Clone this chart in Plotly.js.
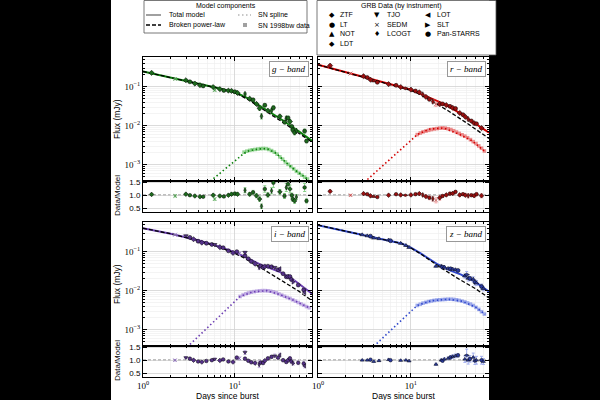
<!DOCTYPE html>
<html><head><meta charset="utf-8">
<script src="https://cdn.plot.ly/plotly-3.0.1.min.js"></script>
<style>html,body{margin:0;padding:0;background:#000;}#chart{width:600px;height:400px;}</style>
</head><body><div id="chart"></div>
<script>
// ---------------- g band ----------------
const gDays  = [1.24,2.24,2.93,3.24,3.67,4.17,4.52,5.81,6.03,6.87,7.59,8.51,9.2,10.0,10.7,12.9,14.5,15.8,17.2,18.6,19.5,21.2,22.9,25.1,26.3,30.9,34.7,36.3,38.0,39.8,41.7,42.7,44.7,46.8,57.5,60.3];
const gFlux  = [0.226,0.157,0.146,0.133,0.120,0.109,0.1045,0.0975,0.0813,0.0863,0.080,0.0789,0.0778,0.0741,0.0689,0.0649,0.0492,0.0459,0.036,0.0278,0.0174,0.0334,0.0242,0.0244,0.0288,0.0173,0.0124,0.0154,0.0157,0.0127,0.0095,0.0078,0.00664,0.00735,0.00726,0.00403];
const gRatio = [1.03,0.97,1.04,1.0,0.97,0.94,0.94,1.0,0.85,0.97,0.95,1.0,1.04,1.06,1.04,1.19,1.04,1.11,0.98,0.85,0.57,1.24,1.01,1.17,1.48,1.13,0.97,1.3,1.43,1.24,1.0,0.85,0.78,0.93,1.3,0.78];
const gErr   = [0.03,0.04,0.03,0.03,0.03,0.03,0.03,0.04,0.05,0.04,0.04,0.04,0.05,0.05,0.05,0.08,0.06,0.07,0.08,0.1,0.15,0.1,0.08,0.1,0.12,0.08,0.1,0.12,0.12,0.12,0.08,0.1,0.12,0.1,0.12,0.1];
const gInst  = ['ZTF','SEDM','ZTF','LT','ZTF','ZTF','LT','ZTF','SEDM','ZTF','LT','ZTF','ZTF','LT','ZTF','LCOGT','ZTF','LT','ZTF','ZTF','LCOGT','LT','ZTF','LCOGT','LT','ZTF','LT','LCOGT','LT','ZTF','LT','LT','ZTF','LCOGT','LT','LT'];
const gTotDays = [1,2.0,3.98,6.31,8.91,11.2,14.1,20.0,31.6,50.1,69.2];
const gTotal   = [0.245,0.172,0.119,0.0933,0.0767,0.0638,0.049,0.0295,0.0148,0.00708,0.00407];
const gBplDays = [1,2.0,3.98,6.31,8.91,11.2,14.1,20.0,31.6,50.1,69.2];
const gBpl     = [0.245,0.172,0.119,0.0933,0.0759,0.0617,0.0457,0.0269,0.0132,0.00631,0.0038];
const gSplDays = [5.01,6.31,7.94,10.0,12.6,14.1,17.8,22.4,28.2,35.5,44.7,56.2,63.1];
const gSpl     = [0.000324,0.000513,0.000794,0.00126,0.00195,0.00224,0.00251,0.00257,0.00195,0.00117,0.000741,0.000501,0.000407];
const gSNDays  = [12.6,13.5,14.5,15.5,16.6,17.8,19.1,20.4,21.9,23.4,25.1,26.9,28.8,30.9,33.1,35.5,38.0,40.7,43.7,46.8,50.1,53.7,57.5,61.7];
const gSN      = [0.00209,0.00221,0.00232,0.0024,0.00245,0.00251,0.00257,0.0026,0.00257,0.00245,0.00229,0.00209,0.00186,0.00158,0.00138,0.00117,0.00102,0.00089,0.000776,0.000676,0.000603,0.000537,0.000479,0.000427];

// ---------------- r band ----------------
const rDays  = [1.35,2.24,3.09,3.39,3.67,3.98,4.35,5.75,6.92,7.76,8.71,10.0,11.2,12.3,13.4,14.5,15.8,17.2,18.6,20.4,21.9,24.0,26.3,28.2,30.2,33.5,36.3,38.5,41.3,44.7,47.9,50.8,57.5];
const rFlux  = [0.346,0.217,0.185,0.171,0.151,0.140,0.129,0.116,0.108,0.0977,0.0904,0.0839,0.0771,0.0716,0.0628,0.0547,0.0472,0.0414,0.0354,0.036,0.0361,0.0337,0.0312,0.0286,0.0275,0.0211,0.0191,0.0168,0.0146,0.0132,0.01156,0.01117,0.00865];
const rRatio = [1.15,1.0,1.06,1.04,0.975,0.95,0.93,1.0,1.04,1.01,1.0,1.01,1.04,1.06,1.01,0.95,0.9,0.86,0.8,0.9,0.97,1.01,1.06,1.07,1.13,1.01,1.04,1.0,0.98,1.0,0.98,1.04,0.98];
const rErr   = [0.04,0.03,0.03,0.03,0.03,0.03,0.03,0.03,0.03,0.03,0.03,0.03,0.04,0.04,0.05,0.06,0.08,0.1,0.12,0.1,0.06,0.05,0.05,0.04,0.04,0.05,0.05,0.05,0.08,0.05,0.06,0.06,0.08];
const rInst  = ['ZTF','SEDM','ZTF','LT','ZTF','NOT','LT','ZTF','LT','ZTF','LDT','ZTF','LT','ZTF','LCOGT','ZTF','LT','LCOGT','SEDM','ZTF','LT','ZTF','LT','ZTF','LT','ZTF','LT','ZTF','LCOGT','LT','ZTF','LT','ZTF'];
const rTotDays = [1,2.0,4.37,6.31,10,15.8,22.9,31.6,50.1,69.2];
const rTotal   = [0.363,0.234,0.138,0.11,0.0832,0.0525,0.0355,0.0229,0.011,0.00661];
const rBplDays = [1,2.0,4.37,6.31,8.91,11.2,15.8,25.1,39.8,69.2];
const rBpl     = [0.363,0.234,0.138,0.108,0.0871,0.0724,0.0468,0.024,0.0117,0.00468];
const rSplDays = [3.16,3.98,5.01,6.31,7.94,10.0,11.7,15.8,22.4,31.6,44.7,63.1];
const rSpl     = [0.000355,0.000575,0.000955,0.00155,0.00257,0.00417,0.00589,0.00813,0.0087,0.00631,0.00417,0.00214];
const rSNDays  = [11.7,12.6,13.5,14.5,15.5,16.6,17.8,19.1,20.4,21.9,23.4,25.1,26.9,28.8,30.9,33.1,35.5,38.0,40.7,43.7,46.8,50.1,53.7,57.5,61.7];
const rSN      = [0.00589,0.00646,0.00692,0.00724,0.00759,0.00794,0.00822,0.00841,0.00861,0.00871,0.00861,0.00832,0.00794,0.00741,0.00684,0.00631,0.00582,0.00537,0.0049,0.00437,0.00389,0.00347,0.00302,0.00263,0.00224];

// ---------------- i band ----------------
const iDays  = [2.23,2.93,3.24,3.55,3.98,4.37,4.9,5.62,6.03,6.87,7.46,8.51,9.55,10.5,11.2,12.9,12.9,14.0,15.1,16.6,18.4,19.1,20.3,21.2,22.9,25.1,27.2,29.5,30.9,33.5,36.3,38.0,39.8,41.3,43.1,49.0,56.2,57.5];
const iFlux  = [0.271,0.255,0.232,0.208,0.185,0.170,0.164,0.153,0.152,0.130,0.126,0.105,0.0929,0.100,0.091,0.0782,0.0959,0.0658,0.0562,0.0488,0.0407,0.0427,0.0394,0.0416,0.0423,0.041,0.0394,0.0345,0.0361,0.0272,0.0226,0.0228,0.0229,0.0193,0.0168,0.0139,0.0105,0.00902];
const iRatio = [1.0,1.1,1.06,1.0,0.95,0.93,0.97,1.0,1.04,0.99,1.03,0.95,0.93,1.1,1.07,1.06,1.3,0.98,0.92,0.89,0.84,0.91,0.89,0.98,1.07,1.13,1.17,1.1,1.2,1.0,0.93,1.0,1.07,0.95,0.88,0.9,0.87,0.78];
const iErr   = [0.03,0.04,0.03,0.03,0.03,0.03,0.03,0.03,0.04,0.03,0.04,0.04,0.04,0.05,0.05,0.05,0.06,0.05,0.06,0.06,0.15,0.06,0.06,0.05,0.05,0.05,0.06,0.05,0.06,0.06,0.06,0.05,0.06,0.08,0.08,0.08,0.1,0.1];
const iInst  = ['SEDM','TJO','LT','ZTF','LT','ZTF','LT','LT','TJO','ZTF','LT','LT','ZTF','LT','SEDM','LT','TJO','LT','LT','ZTF','LCOGT','LT','LT','ZTF','LT','LT','TJO','LT','LOT','LT','LT','ZTF','LT','LT','SLT','LT','LT','LOT'];
const iTotDays = [1,2.0,3.98,6.31,9.55,12.6,18.6,25.1,31.6,44.7,69.2];
const iTotal   = [0.398,0.288,0.195,0.141,0.1,0.0759,0.0479,0.0363,0.0295,0.0182,0.00832];
const iBplDays = [1,2.0,3.98,6.31,9.55,12.6,20.0,31.6,50.1,69.2];
const iBpl     = [0.398,0.288,0.191,0.138,0.0955,0.0692,0.0363,0.0186,0.00955,0.0055];
const iSplDays = [3.02,3.98,5.01,6.31,7.94,10.0,11.4,15.8,22.4,31.6,44.7,63.1];
const iSpl     = [0.000355,0.000661,0.00112,0.00186,0.00316,0.00537,0.00708,0.00933,0.01,0.00776,0.0055,0.00372];
const iSNDays  = [11.4,12.3,13.2,14.1,15.1,16.2,17.4,18.6,20.0,21.4,22.9,24.5,26.3,28.2,30.2,32.4,34.7,37.2,39.8,42.7,45.7,49.0,52.5,56.2,60.3,64.6];
const iSN      = [0.00708,0.00776,0.00832,0.00871,0.00912,0.00944,0.00966,0.00989,0.01,0.01,0.00989,0.00966,0.00933,0.00881,0.00822,0.00767,0.00716,0.00668,0.00631,0.00582,0.00537,0.00495,0.00457,0.00422,0.00389,0.00363];

// ---------------- z band ----------------
const zDays  = [2.99,3.39,3.67,3.98,4.53,5.75,6.03,7.76,8.83,9.55,18.6,21.2,21.9,22.9,25.1,26.7,28.2,30.1,32.1,38.0,39.8,41.3,43.1,46.8,48.8,50.8,57.5,60.3];
const zFlux  = [0.2705,0.254,0.249,0.223,0.215,0.199,0.1905,0.163,0.144,0.1285,0.0422,0.0425,0.040,0.0402,0.0371,0.0363,0.0356,0.0344,0.0329,0.0238,0.0258,0.0207,0.0206,0.0196,0.0164,0.0158,0.0128,0.01125];
const zRatio = [1.0,1.0,1.02,0.95,0.98,1.02,1.0,0.99,1.0,0.97,0.84,1.0,0.98,1.04,1.07,1.11,1.14,1.17,1.19,1.04,1.19,1.0,1.05,1.11,0.98,1.0,1.0,0.95];
const zErr   = [0.03,0.03,0.03,0.03,0.03,0.03,0.03,0.03,0.03,0.03,0.05,0.05,0.05,0.05,0.05,0.06,0.06,0.06,0.06,0.12,0.2,0.15,0.12,0.15,0.15,0.15,0.15,0.12];
const zInst  = ['NOT','NOT','LT','NOT','NOT','NOT','LT','NOT','NOT','NOT','NOT','NOT','LT','NOT','NOT','LT','NOT','NOT','LT','NOT','LDT','NOT','LT','NOT','Pan-STARRS','NOT','LT','NOT'];
const zTotDays = [1,2.51,5.01,6.61,7.94,10,12.6,19.5,25.1,34.7,50.1,69.2];
const zTotal   = [0.479,0.295,0.209,0.182,0.162,0.126,0.0912,0.0468,0.0347,0.0257,0.0162,0.00933];
const zBplDays = [1,2.51,5.01,6.61,7.94,10,12.6,19.5,31.6,50.1,69.2];
const zBpl     = [0.479,0.295,0.209,0.182,0.162,0.124,0.0891,0.0437,0.0209,0.011,0.00646];
const zSplDays = [3.98,5.01,6.31,7.94,10.0,11.7,16.6,25.1,35.5,50.1,63.1];
const zSpl     = [0.000372,0.000617,0.00102,0.0017,0.00288,0.00417,0.0055,0.00603,0.00537,0.00372,0.00245];
const zSNDays  = [11.7,12.6,13.5,14.5,15.5,16.6,17.8,19.1,20.4,21.9,23.4,25.1,26.9,28.8,30.9,33.1,35.5,38.0,40.7,43.7,46.8,50.1,53.7,57.5,61.7];
const zSN      = [0.00417,0.00447,0.00479,0.00501,0.00525,0.00543,0.00562,0.00575,0.00582,0.00589,0.00596,0.00603,0.00603,0.00596,0.00582,0.00562,0.00537,0.00513,0.00484,0.00452,0.00417,0.00372,0.00331,0.00288,0.00251];

// legend labels
const instruments = ['ZTF','LT','NOT','LDT','TJO','SEDM','LCOGT','LOT','SLT','Pan-STARRS'];
const instGlyph   = ['◆','●','▲','◆','▼','×','♦','◀','▶','●'];
const bandNames   = ['g','r','i','z'];

// ---------------- styling ----------------
const SYM = {ZTF:'diamond', LT:'circle', NOT:'triangle-up', LDT:'diamond-wide', TJO:'triangle-down', SEDM:'x-thin-open', LCOGT:'diamond-tall', LOT:'triangle-left', SLT:'triangle-right', 'Pan-STARRS':'hexagon'};
const SANS = 'Liberation Sans, Arial, sans-serif';
const SERIF = 'Liberation Serif, DejaVu Serif, serif';
const DASH = '4px,2px', DOT = '1.5px,2.5px';

const bands = [
  {d:gDays,f:gFlux,q:gRatio,e:gErr,s:gInst,td:gTotDays,t:gTotal,bd:gBplDays,b:gBpl,pd:gSplDays,p:gSpl,nd:gSNDays,n:gSN,
   col:'#0b800b', dark:'#1d6a1d', err:'#86d086', sq:'#6cc46c', ax:['','3']},
  {d:rDays,f:rFlux,q:rRatio,e:rErr,s:rInst,td:rTotDays,t:rTotal,bd:rBplDays,b:rBpl,pd:rSplDays,p:rSpl,nd:rSNDays,n:rSN,
   col:'#d40000', dark:'#9a1010', err:'#f4a4a4', sq:'#e46060', ax:['2','4']},
  {d:iDays,f:iFlux,q:iRatio,e:iErr,s:iInst,td:iTotDays,t:iTotal,bd:iBplDays,b:iBpl,pd:iSplDays,p:iSpl,nd:iSNDays,n:iSN,
   col:'#6d3fb3', dark:'#55318a', err:'#c4b0e4', sq:'#ad92dc', ax:['5','7']},
  {d:zDays,f:zFlux,q:zRatio,e:zErr,s:zInst,td:zTotDays,t:zTotal,bd:zBplDays,b:zBpl,pd:zSplDays,p:zSpl,nd:zSNDays,n:zSN,
   col:'#3048cc', dark:'#2a3aa0', err:'#a4b0ee', sq:'#7a8ce4', ax:['6','8']}
];

const traces = [];
bands.forEach(B => {
  const xa = 'x' + B.ax[0], ya = 'y' + B.ax[0];
  const xr = 'x' + B.ax[1], yr = 'y' + B.ax[1];
  traces.push({x:B.nd, y:B.n, xaxis:xa, yaxis:ya, mode:'markers', type:'scatter',
    marker:{symbol:'square', size:3.6, color:B.sq, opacity:0.7}, hoverinfo:'skip'});
  traces.push({x:B.pd, y:B.p, xaxis:xa, yaxis:ya, mode:'lines', type:'scatter',
    line:{color:B.col, width:1.6, dash:DOT}, hoverinfo:'skip'});
  traces.push({x:B.td, y:B.t, xaxis:xa, yaxis:ya, mode:'lines', type:'scatter',
    line:{color:B.col, width:2}, hoverinfo:'skip'});
  traces.push({x:B.bd, y:B.b, xaxis:xa, yaxis:ya, mode:'lines', type:'scatter',
    line:{color:'#000', width:1.3, dash:DASH}, hoverinfo:'skip'});
  const syms = B.s.map(k => SYM[k]);
  const lineCols = B.s.map(k => k === 'SEDM' ? B.dark : '#000');
  traces.push({x:B.d, y:B.f, xaxis:xa, yaxis:ya, mode:'markers', type:'scatter',
    error_y:{type:'data', array:B.f.map((v,k)=>v*B.e[k]), color:B.err, thickness:1, width:1.5},
    marker:{symbol:syms, size:4, color:B.dark, line:{color:lineCols, width:0.5}}});
  traces.push({x:B.d, y:B.q, xaxis:xr, yaxis:yr, mode:'markers', type:'scatter',
    error_y:{type:'data', array:B.q.map((v,k)=>v*B.e[k]), color:B.err, thickness:1, width:1.5},
    marker:{symbol:syms, size:3.6, color:B.dark, line:{color:lineCols, width:0.5}}});
});

// ---------------- axes ----------------
const XL = [143/600, 312/600], XR = [318/600, 489/600];
const YTM = [1-181/400, 1-57/400], YTR = [1-212/400, 1-181/400];
const YBM = [1-346/400, 1-222/400], YBR = [1-377/400, 1-346/400];

const xMinor = []; [1,10].forEach(dec => { for (let m=2;m<=9;m++) xMinor.push(m*dec); });
const yMinor = []; [0.0001,0.001,0.01,0.1].forEach(dec => { for (let m=2;m<=9;m++) yMinor.push(m*dec); });

function common() {
  return {showline:true, linecolor:'#000', linewidth:1, mirror:'ticks', ticks:'inside', ticklen:4, tickcolor:'#000',
    showgrid:true, gridcolor:'#d2d2d2', gridwidth:0.8, zeroline:false, fixedrange:true};
}
function xAxis(dom, anchor, labels) {
  return Object.assign(common(), {type:'log', domain:dom, anchor:anchor, range:[0,1.84],
    tickmode:'array', tickvals:[1,10], ticktext:['10<sup>0</sup>','10<sup>1</sup>'], showticklabels:labels,
    tickfont:{family:SERIF, size:9, color:'#000'},
    minor:{tickmode:'array', tickvals:xMinor, ticks:'inside', ticklen:2, tickcolor:'#000', showgrid:true, gridcolor:'#ececec', gridwidth:0.6}});
}
function yMain(dom, anchor, labels) {
  return Object.assign(common(), {type:'log', domain:dom, anchor:anchor, range:[-3.42,-0.24],
    tickmode:'array', tickvals:[0.001,0.01,0.1], ticktext:['10<sup>−3</sup>','10<sup>−2</sup>','10<sup>−1</sup>'], showticklabels:labels,
    tickfont:{family:SERIF, size:9, color:'#000'},
    minor:{tickmode:'array', tickvals:yMinor, ticks:'inside', ticklen:2, tickcolor:'#000', showgrid:true, gridcolor:'#ececec', gridwidth:0.6}});
}
function yRatio(dom, anchor, labels) {
  return Object.assign(common(), {type:'linear', domain:dom, anchor:anchor, range:[0.35,1.55],
    tickmode:'array', tickvals:[0.5,1.0,1.5], ticktext:['0.5','1.0','1.5'], showticklabels:labels,
    tickfont:{family:SANS, size:8, color:'#000'}});
}

const layout = {
  width:600, height:400, margin:{l:0,r:0,t:0,b:0}, paper_bgcolor:'#000', plot_bgcolor:'#fff', showlegend:false,
  xaxis: xAxis(XL,'y',false),  yaxis: yMain(YTM,'x',true),
  xaxis2:xAxis(XR,'y2',false), yaxis2:yMain(YTM,'x2',false),
  xaxis3:xAxis(XL,'y3',false), yaxis3:yRatio(YTR,'x3',true),
  xaxis4:xAxis(XR,'y4',false), yaxis4:yRatio(YTR,'x4',false),
  xaxis5:xAxis(XL,'y5',false), yaxis5:yMain(YBM,'x5',true),
  xaxis6:xAxis(XR,'y6',false), yaxis6:yMain(YBM,'x6',false),
  xaxis7:xAxis(XL,'y7',true),  yaxis7:yRatio(YBR,'x7',true),
  xaxis8:xAxis(XR,'y8',true),  yaxis8:yRatio(YBR,'x8',false),
  shapes:[], annotations:[]
};

const P = (px,py) => ({x:px/600, y:1-py/400});
// white figure area
layout.shapes.push({type:'rect', xref:'paper', yref:'paper', x0:111/600, x1:489/600, y0:0, y1:1, fillcolor:'#fff', line:{width:0}, layer:'below'});
// reference lines in ratio panels
['3','4','7','8'].forEach(n => layout.shapes.push({type:'line', xref:'x'+n+' domain', yref:'y'+n, x0:0, x1:1, y0:1, y1:1,
  line:{color:'#808080', width:1.2, dash:'3px,2px'}, layer:'below'}));

// band labels
[['',bandNames[0]],['2',bandNames[1]],['5',bandNames[2]],['6',bandNames[3]]].forEach(([n,b]) => layout.annotations.push({
  xref:'x'+n+' domain', yref:'y'+n+' domain', x:0.985, y:0.965, xanchor:'right', yanchor:'top', showarrow:false,
  text:'<i>'+b+' − band</i>', font:{family:SERIF, size:9, color:'#000'}, bgcolor:'#fff', bordercolor:'#999', borderwidth:1, borderpad:2}));

// axis titles
function txt(px,py,text,opt) {
  const p = P(px,py);
  return Object.assign({xref:'paper', yref:'paper', x:p.x, y:p.y, text:text, showarrow:false, xanchor:'center', yanchor:'middle',
    font:{family:SANS, size:8.5, color:'#000'}}, opt||{});
}
layout.annotations.push(txt(117,119,'Flux (mJy)',{textangle:-90}));
layout.annotations.push(txt(117,284,'Flux (mJy)',{textangle:-90}));
layout.annotations.push(txt(117,196,'Data/Model',{textangle:-90, font:{family:SANS,size:8,color:'#000'}}));
layout.annotations.push(txt(117,361,'Data/Model',{textangle:-90, font:{family:SANS,size:8,color:'#000'}}));
layout.annotations.push(txt(227.5,395.5,'Days since burst',{font:{family:SANS,size:8.5,color:'#000'}}));
layout.annotations.push(txt(403.5,395.5,'Days since burst',{font:{family:SANS,size:8.5,color:'#000'}}));

// legend boxes
function prect(x0,y0,x1,y1,fill,lc,lw,dash) {
  return {type:'rect', xref:'paper', yref:'paper', x0:x0/600, x1:x1/600, y0:1-y1/400, y1:1-y0/400,
    fillcolor:fill, line:{color:lc, width:lw, dash:dash||'solid'}};
}
function pline(x0,y0,x1,y1,lc,lw,dash) {
  return {type:'line', xref:'paper', yref:'paper', x0:x0/600, x1:x1/600, y0:1-y0/400, y1:1-y1/400, line:{color:lc, width:lw, dash:dash||'solid'}};
}
layout.shapes.push(prect(144,0.5,307,33,'#fff','#555',0.8));
layout.shapes.push(prect(317,0.5,496,55,'#fff','#555',0.8));
const LF = {family:SANS, size:7, color:'#000'};
layout.annotations.push(txt(225.5,5.5,'Model components',{font:LF}));
layout.shapes.push(pline(146,15,161,15,'#808080',1.5));
layout.shapes.push(pline(146,25,161,25,'#000',1.3,DASH));
layout.shapes.push(pline(238,15,251,15,'#909090',1.2,DOT));
layout.shapes.push(prect(243,23,247,27,'#a0a0a0','#a0a0a0',0));
layout.annotations.push(txt(167,15,'Total model',{xanchor:'left', font:LF}));
layout.annotations.push(txt(167,25,'Broken power-law',{xanchor:'left', font:LF}));
layout.annotations.push(txt(256,15,'SN spline',{xanchor:'left', font:LF}));
layout.annotations.push(txt(256,25,'SN 1998bw data',{xanchor:'left', font:LF}));

layout.annotations.push(txt(401,5.5,'GRB Data (by instrument)',{font:LF}));
const colMX = [331.5,377,428.5], colTX = [338,385,435], rowY = [15,24.5,34,43.5];
const cells = [[0,0],[0,1],[0,2],[0,3],[1,0],[1,1],[1,2],[2,0],[2,1],[2,2]];
instruments.forEach((name,k) => {
  const [c,r] = cells[k];
  layout.annotations.push(txt(colMX[c],rowY[r],instGlyph[k],{font:{family:'DejaVu Sans, sans-serif', size:7, color:'#000'}}));
  layout.annotations.push(txt(colTX[c],rowY[r],name,{xanchor:'left', font:LF}));
});

Plotly.newPlot('chart', traces, layout, {displayModeBar:false, staticPlot:true});
</script></body></html>
